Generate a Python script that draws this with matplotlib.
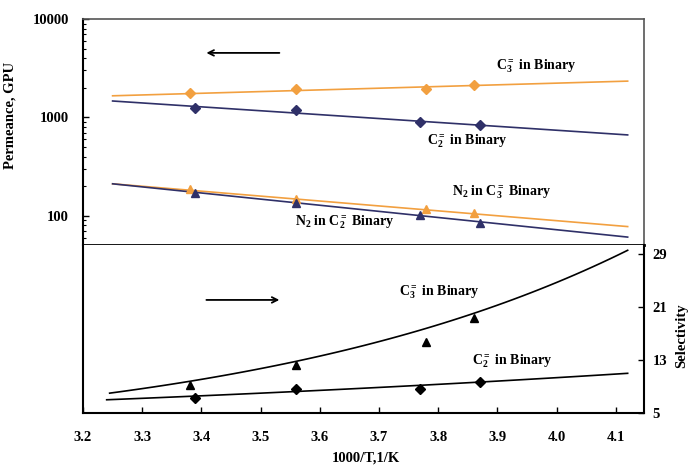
import numpy as np
import matplotlib
matplotlib.use("Agg")
import matplotlib.pyplot as plt
from matplotlib.ticker import LogLocator, NullFormatter

plt.rcParams.update({
    "font.family": ["Liberation Serif", "DejaVu Serif"],
    "font.weight": "bold",
    "mathtext.fontset": "custom",
    "mathtext.rm": "Liberation Serif:bold",
    "mathtext.it": "Liberation Serif:bold",
    "mathtext.bf": "Liberation Serif:bold",
})

# Permeance data (GPU) vs 1000/T
x_c3 = [3.38, 3.56, 3.78, 3.86]
x_c2 = [3.39, 3.56, 3.77, 3.87]
perm_c3 = [1780, 1950, 1960, 2120]
perm_c2 = [1250, 1190, 900, 840]
perm_n2_c3 = [188, 150, 118, 107]
perm_n2_c2 = [172, 135, 102, 84]

# Arrhenius trend lines (end points)
fit_x = [3.25, 4.12]
fit_c3 = [1660, 2340]
fit_c2 = [1470, 665]
fit_n2_c3 = [212, 78]
fit_n2_c2 = [212, 61]

# Selectivity data
sel_c3 = [9.2, 12.3, 15.8, 19.3]
sel_c2 = [7.3, 8.6, 8.7, 9.7]
sel_fit_x_c3 = [3.245, 4.12]
sel_fit_c3 = [8.0, 29.6]
sel_fit_x_c2 = [3.24, 4.12]
sel_fit_c2 = [7.0, 11.0]

x_ticks = [3.2, 3.3, 3.4, 3.5, 3.6, 3.7, 3.8, 3.9, 4.0, 4.1]
sel_ticks = [5, 13, 21, 29]

ORANGE = "#F2A040"
NAVY = "#2F3068"
TICK_FS = 10.5
LABEL_FS = 10.5
NOTE_FS = 10

fig = plt.figure(figsize=(6.88, 4.66), dpi=100)
W, H = 688, 466
left, right = 83 / W, 644 / W
ax1 = fig.add_axes([left, 1 - 245 / H, right - left, (245 - 19) / H])
ax2 = fig.add_axes([left, 1 - 413 / H, right - left, (413 - 245) / H])

xlim = (3.2, 4.1476)

# ---- upper panel: permeance ----
ax1.set_yscale("log")
ax1.set_xlim(*xlim)
ax1.set_ylim(50.7, 10000)
ax1.plot(fit_x, fit_c3, color=ORANGE, lw=1.2)
ax1.plot(fit_x, fit_c2, color=NAVY, lw=1.2)
ax1.plot(fit_x, fit_n2_c3, color=ORANGE, lw=1.2)
ax1.plot(fit_x, fit_n2_c2, color=NAVY, lw=1.2)
ax1.plot(x_c3, perm_c3, "D", color=ORANGE, ms=5)
ax1.plot(x_c2, perm_c2, "D", color=NAVY, ms=5)
ax1.plot(x_c3, perm_n2_c3, "^", color=ORANGE, ms=6)
ax1.plot(x_c2, perm_n2_c2, "^", color=NAVY, ms=6)

ax1.yaxis.set_minor_locator(LogLocator(base=10, subs=np.arange(2, 10), numticks=10))
ax1.yaxis.set_minor_formatter(NullFormatter())
ax1.set_yticks([100, 1000, 10000])
ax1.set_yticklabels(["100", "1000", "10000"])
ax1.tick_params(axis="y", which="major", direction="in", length=4, width=1,
                labelsize=TICK_FS, pad=10)
ax1.tick_params(axis="y", which="minor", direction="in", length=2.5, width=0.8)
ax1.tick_params(axis="x", bottom=False, labelbottom=False)
ax1.set_ylabel("Permeance, GPU", fontsize=LABEL_FS, fontweight="bold")
ax1.yaxis.set_label_coords(-0.118, 0.575)
for s in ("top", "right"):
    ax1.spines[s].set_color("#555555")
    ax1.spines[s].set_linewidth(1.2)
ax1.spines["left"].set_linewidth(1.5)
ax1.spines["bottom"].set_linewidth(2.0)

ax1.text(3.898, 3330, r"C$_3^{=}$ in Binary", fontsize=NOTE_FS, ha="left", va="center")
ax1.text(3.781, 577, r"C$_2^{=}$ in Binary", fontsize=NOTE_FS, ha="left", va="center")
ax1.text(3.823, 175, r"N$_2$ in C$_3^{=}$ Binary", fontsize=NOTE_FS, ha="left", va="center")
ax1.text(3.558, 87, r"N$_2$ in C$_2^{=}$ Binary", fontsize=NOTE_FS, ha="left", va="center")
ax1.annotate("", xy=(0.215, 0.85), xytext=(0.355, 0.85), xycoords="axes fraction",
             arrowprops=dict(arrowstyle="->", color="black", lw=1.3))

# ---- lower panel: selectivity ----
ax2.set_xlim(*xlim)
ax2.set_ylim(5, 30.4)


def exp_trend(xe, ye, n=60):
    xs = np.linspace(xe[0], xe[1], n)
    k = np.log(ye[1] / ye[0]) / (xe[1] - xe[0])
    return xs, ye[0] * np.exp(k * (xs - xe[0]))


xs, ys = exp_trend(sel_fit_x_c3, sel_fit_c3)
ax2.plot(xs, ys, color="black", lw=1.2)
xs, ys = exp_trend(sel_fit_x_c2, sel_fit_c2)
ax2.plot(xs, ys, color="black", lw=1.2)
ax2.plot(x_c3, sel_c3, "^", color="black", ms=6)
ax2.plot(x_c2, sel_c2, "D", color="black", ms=5)

ax2.set_xticks(x_ticks)
ax2.set_xticklabels([f"{v:.1f}" for v in x_ticks])
ax2.tick_params(axis="x", direction="in", length=4, width=1, labelsize=TICK_FS, pad=13)
ax2.yaxis.tick_right()
ax2.set_yticks(sel_ticks)
ax2.tick_params(axis="y", direction="in", length=4, width=1, labelsize=TICK_FS, pad=6,
                left=False, right=True)
ax2.yaxis.set_label_position("right")
ax2.set_ylabel("Selectivity", fontsize=LABEL_FS, fontweight="bold")
ax2.yaxis.set_label_coords(1.056, 0.458)
ax2.set_xlabel("1000/T,1/K", fontsize=LABEL_FS, fontweight="bold")
ax2.xaxis.set_label_coords(0.504, -0.228)
ax2.spines["top"].set_visible(False)
for s in ("left", "bottom", "right"):
    ax2.spines[s].set_linewidth(1.5)

ax2.text(3.734, 23.3, r"C$_3^{=}$ in Binary", fontsize=NOTE_FS, ha="left", va="center")
ax2.text(3.857, 12.85, r"C$_2^{=}$ in Binary", fontsize=NOTE_FS, ha="left", va="center")
ax2.annotate("", xy=(0.355, 0.673), xytext=(0.215, 0.673), xycoords="axes fraction",
             arrowprops=dict(arrowstyle="->", color="black", lw=1.3))

fig.savefig("out.png", dpi=100)
